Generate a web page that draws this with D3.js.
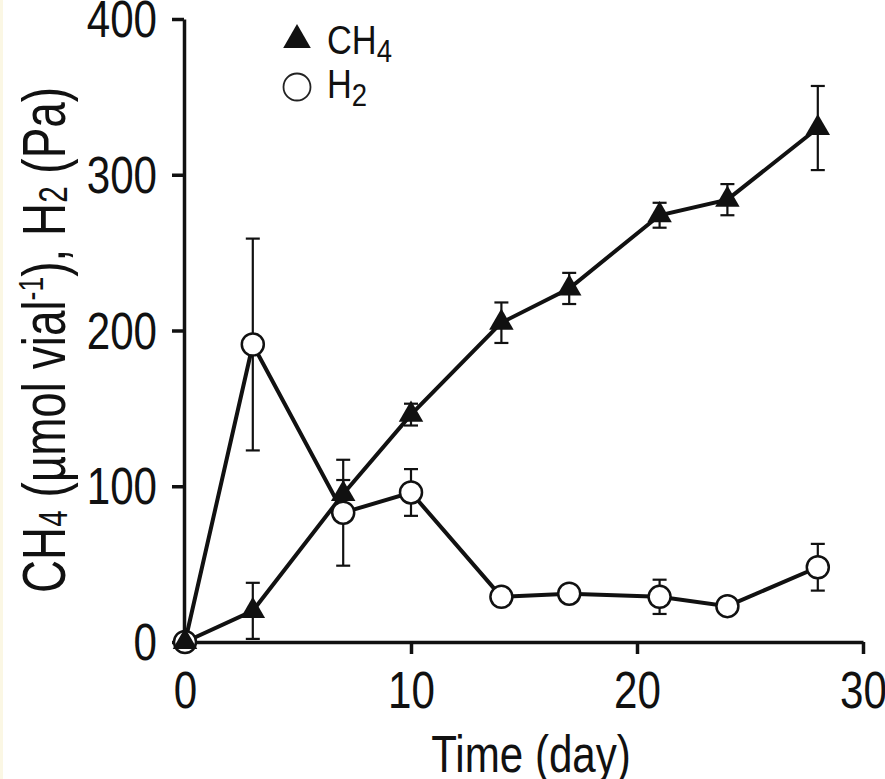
<!DOCTYPE html>
<html>
<head>
<meta charset="utf-8">
<script src="https://cdn.jsdelivr.net/npm/d3@7"></script>
<style>
  body { margin: 0; background: #fff; }
  text { font-family: "Liberation Sans", Arial, sans-serif; fill: #111; }
</style>
</head>
<body>
<div id="chart"></div>
<script>
// data
var days = [0, 3, 7, 10, 14, 17, 21, 24, 28];
var ch4 = [0, 20, 95, 146, 205, 227, 274, 284, 330];
var ch4Err = [0, 18, 9, 7, 13, 10, 8, 10, 27];
var h2 = [0, 191, 83, 96, 29, 31, 29, 23, 48];
var h2Err = [0, 68, 34, 15, 3, 3, 11, 3, 15];
var xTicks = [0, 10, 20, 30];
var yTicks = [0, 100, 200, 300, 400];

var svgWidth = 885;
var svgHeight = 779;
var squeeze = 0.81; // text in the figure is condensed

var svg = d3.select("#chart")
  .append("svg")
  .attr("width", svgWidth)
  .attr("height", svgHeight);

svg.append("rect").attr("width", svgWidth).attr("height", svgHeight).attr("fill", "#fff");
svg.append("rect").attr("width", 3).attr("height", svgHeight).attr("fill", "#fbf7e4");

var x = d3.scaleLinear().domain([0, 30]).range([185, 863]);
var y = d3.scaleLinear().domain([0, 400]).range([642, 19]);

// axes
var xAxis = svg.append("g")
  .attr("transform", "translate(0, 642)")
  .call(d3.axisBottom(x).tickValues(xTicks).tickSize(12).tickSizeOuter(0));

var yAxis = svg.append("g")
  .attr("transform", "translate(184, 0)")
  .call(d3.axisLeft(y).tickValues(yTicks).tickSize(12).tickSizeOuter(0));

[xAxis, yAxis].forEach(function(ax) {
  ax.select(".domain").attr("stroke", "#111").attr("stroke-width", 3.5);
  ax.selectAll(".tick line").attr("stroke", "#111").attr("stroke-width", 3.5);
  ax.selectAll(".tick text")
    .attr("font-size", 52)
    .attr("font-family", "Liberation Sans, Arial, sans-serif")
    .attr("fill", "#111");
});

xAxis.selectAll(".tick text")
  .attr("y", 66)
  .attr("dy", 0)
  .attr("transform", "scale(" + squeeze + ",1)");

yAxis.selectAll(".tick text")
  .attr("x", -27 / squeeze)
  .attr("dy", "0.34em")
  .attr("transform", "scale(" + squeeze + ",1)");

// axis titles
svg.append("text")
  .attr("transform", "translate(531, 772) scale(" + squeeze + ",1)")
  .attr("text-anchor", "middle")
  .attr("font-size", 52)
  .text("Time (day)");

var yLabel = svg.append("text")
  .attr("transform", "translate(65, 340) rotate(-90) scale(0.74,1)")
  .attr("text-anchor", "middle")
  .attr("font-size", 62);
yLabel.append("tspan").text("CH");
yLabel.append("tspan").attr("font-size", 40).attr("dy", 2).text("4");
yLabel.append("tspan").attr("dy", -2).text(" (\u00b5mol vial");
yLabel.append("tspan").attr("font-size", 36).attr("dy", -22).text("-1");
yLabel.append("tspan").attr("dy", 22).text("), H");
yLabel.append("tspan").attr("font-size", 40).attr("dy", 2).text("2");
yLabel.append("tspan").attr("dy", -2).text(" (Pa)");

// series
function drawSeries(vals, errs, isTri) {
  var pts = days.map(function(d, i) { return { d: d, v: vals[i], e: errs[i] }; });

  svg.append("path")
    .datum(pts)
    .attr("fill", "none")
    .attr("stroke", "#111")
    .attr("stroke-width", 4)
    .attr("d", d3.line().x(function(p) { return x(p.d); }).y(function(p) { return y(p.v); }));

  var eb = svg.append("g").attr("stroke", "#111").attr("stroke-width", 2.2);
  pts.filter(function(p) { return p.e > 0; }).forEach(function(p) {
    var cx = x(p.d);
    eb.append("line").attr("x1", cx).attr("x2", cx).attr("y1", y(p.v - p.e)).attr("y2", y(p.v + p.e));
    eb.append("line").attr("x1", cx - 7).attr("x2", cx + 7).attr("y1", y(p.v + p.e)).attr("y2", y(p.v + p.e));
    eb.append("line").attr("x1", cx - 7).attr("x2", cx + 7).attr("y1", y(p.v - p.e)).attr("y2", y(p.v - p.e));
  });
  return pts;
}

var h2Pts = drawSeries(h2, h2Err, false);
var ch4Pts = drawSeries(ch4, ch4Err, true);

svg.append("g").selectAll("circle")
  .data(h2Pts)
  .enter()
  .append("circle")
  .attr("cx", function(p) { return x(p.d); })
  .attr("cy", function(p) { return y(p.v); })
  .attr("r", 11)
  .attr("fill", "#fff")
  .attr("stroke", "#111")
  .attr("stroke-width", 2.5);

svg.append("g").selectAll("path")
  .data(ch4Pts)
  .enter()
  .append("path")
  .attr("transform", function(p) { return "translate(" + x(p.d) + "," + y(p.v) + ")"; })
  .attr("d", d3.symbol().type(d3.symbolTriangle).size(260))
  .attr("fill", "#111");

// legend
svg.append("path")
  .attr("transform", "translate(297, 40)")
  .attr("d", d3.symbol().type(d3.symbolTriangle).size(330))
  .attr("fill", "#111");
svg.append("circle")
  .attr("cx", 297).attr("cy", 87).attr("r", 13.5)
  .attr("fill", "#fff").attr("stroke", "#222").attr("stroke-width", 1.8);

var leg1 = svg.append("text")
  .attr("transform", "translate(327, 54) scale(0.86,1)")
  .attr("font-size", 40);
leg1.append("tspan").text("CH");
leg1.append("tspan").attr("font-size", 32).attr("dy", 8).text("4");

var leg2 = svg.append("text")
  .attr("transform", "translate(327, 98) scale(0.86,1)")
  .attr("font-size", 40);
leg2.append("tspan").text("H");
leg2.append("tspan").attr("font-size", 32).attr("dy", 8).text("2");
</script>
</body>
</html>
